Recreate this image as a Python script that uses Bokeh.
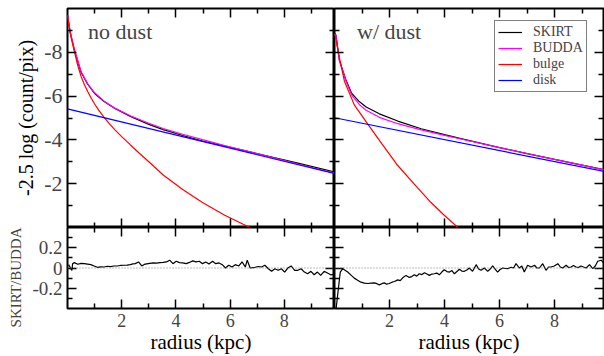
from bokeh.plotting import figure
from bokeh.models import (Range1d, LinearAxis, FixedTicker, Label, Legend, LegendItem, Span,
                          CustomJSTickFormatter, Title)
from bokeh.layouts import gridplot
from bokeh.embed import file_html
from bokeh.resources import INLINE

FONT = "Liberation Serif"

# ---------------- data ----------------
# top-left: no dust
r_left = [0.0, 0.05, 0.1, 0.25, 0.5, 0.75, 1.0, 1.35, 1.75, 2.32, 3.0, 3.53, 4.25, 4.98, 5.8, 6.73, 7.5, 8.5, 10.0]
budda_left = [-9.70, -9.33, -8.94, -8.15, -7.12, -6.56, -6.15, -5.77, -5.45, -5.10, -4.76, -4.52, -4.26, -4.01, -3.74, -3.45, -3.21, -2.90, -2.44]
skirt_left = [-9.68, -9.30, -8.91, -8.12, -7.09, -6.53, -6.12, -5.75, -5.43, -5.07, -4.71, -4.47, -4.20, -3.95, -3.72, -3.45, -3.23, -2.94, -2.49]
bulge_left_r = [0.0, 0.05, 0.1, 0.18, 0.25, 0.375, 0.5, 0.625, 0.75, 0.875, 1.0, 1.15, 1.35, 1.55, 1.75, 2.0,
                2.32, 2.65, 3.0, 3.53, 4.25, 4.98, 5.8, 6.73, 7.5]
bulge_left = [-9.68, -9.25, -8.88, -8.42, -8.06, -7.42, -6.9, -6.52, -6.2, -5.9, -5.64, -5.36, -5.03, -4.73, -4.46, -4.15,
              -3.77, -3.39, -3.0, -2.40, -1.74, -1.14, -0.56, 0.0, 0.65]
disk_left_r = [0.0, 10.0]
disk_left = [-5.42, -2.42]

# top-right: with dust
bulge_right_r = [0.0, 0.05, 0.18, 0.36, 0.72, 1.21, 1.75, 2.30, 2.9, 3.51, 4.0, 4.54, 5.0]
bulge_right = [-8.85, -8.6, -7.75, -6.68, -5.6, -4.72, -3.77, -2.83, -1.98, -1.14, -0.55, 0.06, 0.6]
model_right_r = [0.0, 0.05, 0.18, 0.42, 0.62, 0.90, 1.15, 1.63, 2.30, 3.15, 4.0, 4.6, 6.0, 7.0, 8.0, 9.0, 10.0]
budda_right = [-8.85, -8.75, -7.6, -6.68, -6.06, -5.62, -5.35, -5.03, -4.74, -4.46, -4.21, -4.04, -3.65, -3.38, -3.11, -2.85, -2.58]
skirt_right = [-8.88, -8.8, -7.63, -6.72, -6.14, -5.75, -5.50, -5.19, -4.86, -4.51, -4.24, -4.06, -3.65, -3.37, -3.11, -2.85, -2.59]
disk_right_r = [0.0, 10.0]
disk_right = [-5.01, -2.51]

# residuals SKIRT/BUDDA
res_left_r = [0.04, 0.11, 0.16, 0.19, 0.25, 0.38, 0.5, 0.62, 0.74, 0.86, 0.98, 1.10, 1.22, 1.35, 1.47, 1.59,
              1.71, 1.83, 1.95, 2.07, 2.20, 2.32, 2.41, 2.50, 2.62, 2.74, 2.83, 2.92, 3.04, 3.16, 3.28, 3.41,
              3.53, 3.65, 3.77, 3.89, 4.01, 4.13, 4.25, 4.38, 4.50, 4.62, 4.74, 4.86, 4.98, 5.10, 5.22, 5.35,
              5.47, 5.59, 5.71, 5.83, 5.95, 6.07, 6.19, 6.32, 6.44, 6.56, 6.63, 6.74, 6.92, 7.04, 7.16, 7.28,
              7.41, 7.53, 7.65, 7.77, 7.89, 8.01, 8.13, 8.25, 8.38, 8.50, 8.62, 8.74, 8.86, 8.98, 9.10, 9.22,
              9.34, 9.47, 9.59, 9.71, 9.83]
res_left = [0.033, 0.0, -0.023, 0.043, 0.053, 0.037, 0.045, 0.043, 0.038, 0.033, 0.02, 0.007, 0.012, 0.01, 0.017, 0.013,
            0.02, 0.02, 0.025, 0.027, 0.028, 0.033, 0.04, 0.043, 0.06, 0.02, 0.035, 0.04, 0.045, 0.05, 0.048, 0.053,
            0.055, 0.06, 0.077, 0.043, 0.067, 0.053, 0.05, 0.043, 0.055, 0.07, 0.06, 0.067, 0.043, 0.06, 0.04, 0.067,
            0.043, 0.05, 0.033, 0.0, 0.027, 0.01, 0.033, 0.02, 0.06, 0.01, 0.077, 0.0, 0.007, 0.015, 0.01, 0.027,
            -0.007, -0.033, -0.007, -0.023, -0.007, -0.04, 0.0, 0.02, -0.023, -0.023, -0.007, -0.04, -0.057, -0.033, -0.067, -0.04,
            -0.073, -0.033, -0.05, -0.067, -0.063]
res_right_r = [0.05, 0.21, 0.30, 0.48, 0.60, 0.72, 0.84, 0.96, 1.09, 1.21, 1.33, 1.45, 1.54, 1.63, 1.72, 1.81,
               1.90, 1.99, 2.09, 2.18, 2.30, 2.39, 2.48, 2.60, 2.72, 2.81, 2.90, 2.99, 3.08, 3.18, 3.27, 3.36,
               3.45, 3.54, 3.63, 3.72, 3.81, 3.90, 3.99, 4.09, 4.18, 4.27, 4.36, 4.45, 4.54, 4.63, 4.72, 4.81,
               4.90, 5.02, 5.15, 5.24, 5.33, 5.45, 5.57, 5.66, 5.75, 5.84, 5.93, 6.02, 6.12, 6.21, 6.30, 6.42,
               6.51, 6.60, 6.72, 6.81, 6.90, 7.02, 7.15, 7.27, 7.36, 7.45, 7.57, 7.69, 7.78, 7.87, 7.99, 8.12,
               8.21, 8.30, 8.42, 8.51, 8.60, 8.69, 8.78, 8.87, 8.96, 9.05, 9.15, 9.27, 9.39, 9.48, 9.57, 9.69, 9.81]
res_right = [-0.42, -0.04, -0.007, -0.04, -0.07, -0.10, -0.12, -0.14, -0.15, -0.153, -0.15, -0.147, -0.155, -0.167, -0.155, -0.147,
             -0.16, -0.153, -0.14, -0.133, -0.117, -0.125, -0.097, -0.073, -0.093, -0.085, -0.067, -0.08, -0.057, -0.065, -0.047, -0.06,
             -0.073, -0.06, -0.057, -0.05, -0.067, -0.04, -0.017, -0.035, -0.04, -0.025, -0.057, -0.035, -0.013, -0.03, -0.033, -0.02,
             0.0, -0.033, 0.033, -0.01, -0.023, 0.0, -0.033, -0.01, 0.02, -0.01, -0.04, -0.015, 0.0, -0.005, -0.007, 0.007,
             0.0, 0.043, 0.0, 0.02, -0.04, 0.027, 0.01, 0.027, 0.0, 0.0, 0.043, -0.023, 0.01, 0.01, 0.02, 0.043,
             0.01, 0.0, 0.027, 0.005, 0.01, 0.025, 0.01, 0.005, 0.02, 0.01, 0.0, 0.033, -0.007, 0.02, 0.067, 0.077, 0.043]

x_ticks = [2, 4, 6, 8]
x_minor = [1, 3, 5, 7, 9]
x_labels = ["2", "4", "6", "8"]
mag_ticks = [-8, -6, -4, -2]
mag_minor = [-9, -7, -5, -3, -1]
mag_labels = ["-8", "-6", "-4", "-2"]
res_ticks = [-0.2, 0.0, 0.2]
res_minor = [-0.3, -0.1, 0.1, 0.3]
res_labels = ["-0.2", "0", "0.2"]


def style_axis(ax, ticks, minor, labels=None, size="18px"):
    ax.ticker = FixedTicker(ticks=ticks, minor_ticks=minor)
    ax.axis_line_color = None
    ax.major_tick_in = 9
    ax.major_tick_out = 0
    ax.minor_tick_in = 5
    ax.minor_tick_out = 0
    ax.major_tick_line_color = "black"
    ax.major_tick_line_width = 1.5
    ax.minor_tick_line_color = "black"
    ax.minor_tick_line_width = 1.5
    if labels is None:
        ax.formatter = CustomJSTickFormatter(code="return ''")
        ax.major_label_text_font_size = "0px"
        ax.major_label_standoff = 0
    else:
        ax.major_label_overrides = {t: l for t, l in zip(ticks, labels)}
        ax.major_label_text_font = FONT
        ax.major_label_text_font_size = size
        ax.major_label_standoff = 5
    ax.axis_label_text_font = FONT
    ax.axis_label_text_font_style = "normal"
    ax.axis_label_text_color = "black"
    return ax


def make_fig(w, h, xr, yr, borders):
    p = figure(width=w, height=h, x_range=xr, y_range=yr, output_backend="svg",
               toolbar_location=None, x_axis_location=None, y_axis_location=None,
               min_border_left=borders[0], min_border_right=borders[1],
               min_border_top=borders[2], min_border_bottom=borders[3])
    p.grid.grid_line_color = None
    p.outline_line_color = "black"
    p.outline_line_width = 2
    p.outline_line_alpha = 1
    p.background_fill_color = "white"
    p.border_fill_color = "white"
    return p


def add_axes(p, xt, xm, yt, ym, ylabels=None, ysize="18px", ylabel=None, ylabel_size="18px",
             ylabel_standoff=4, xlabels=None, xlabel=None):
    left = style_axis(LinearAxis(), yt, ym, ylabels, ysize)
    if ylabel:
        left.axis_label = ylabel
        left.axis_label_text_font_size = ylabel_size
        left.axis_label_standoff = ylabel_standoff
    p.add_layout(left, "left")
    p.add_layout(style_axis(LinearAxis(), yt, ym), "right")
    p.add_layout(style_axis(LinearAxis(), xt, xm), "above")
    bottom = style_axis(LinearAxis(), xt, xm, xlabels, "18px")
    if xlabel:
        bottom.axis_label = xlabel
        bottom.axis_label_text_font_size = "21px"
        bottom.axis_label_standoff = 0
    p.add_layout(bottom, "below")


xl = Range1d(0, 9.85)
xr_ = Range1d(0, 9.78)

# ---- top-left ----
tl = make_fig(334, 227, xl, Range1d(0, -10), (63, 0, 8, 0))
add_axes(tl, x_ticks, x_minor, mag_ticks, mag_minor, mag_labels, "22px",
         "-2.5 log (count/pix)", "20px", 4)
tl.line(r_left, skirt_left, color="black", line_width=1.2)
tl.line(r_left, budda_left, color="#ff00ff", line_width=1.2)
tl.line(bulge_left_r, bulge_left, color="#ff0000", line_width=1.2)
tl.line(disk_left_r, disk_left, color="#0000ff", line_width=1.2)
tl.add_layout(Label(x=0.76, y=-8.95, text="no dust", text_font=FONT, text_font_size="22px",
                    text_baseline="alphabetic"))

# ---- top-right ----
tr = make_fig(270, 227, xr_, Range1d(0, -10), (0, 1, 8, 0))
add_axes(tr, x_ticks, x_minor, mag_ticks, mag_minor)
g1 = tr.line(model_right_r, skirt_right, color="black", line_width=1.2)
g2 = tr.line(model_right_r, budda_right, color="#ff00ff", line_width=1.2)
g3 = tr.line(bulge_right_r, bulge_right, color="#ff0000", line_width=1.2)
g4 = tr.line(disk_right_r, disk_right, color="#0000ff", line_width=1.2)
tr.add_layout(Label(x=0.82, y=-8.95, text="w/ dust", text_font=FONT, text_font_size="22px",
                    text_baseline="alphabetic"))
legend = Legend(items=[LegendItem(label="SKIRT", renderers=[g1]),
                       LegendItem(label="BUDDA", renderers=[g2]),
                       LegendItem(label="bulge", renderers=[g3]),
                       LegendItem(label="disk", renderers=[g4])],
                location=(160, 135), margin=0, padding=3, spacing=0,
                glyph_width=24, glyph_height=14, label_height=14, label_standoff=11,
                label_text_font=FONT, label_text_font_size="14px",
                border_line_color="black", border_line_width=1.5,
                background_fill_color="white", background_fill_alpha=1)
tr.add_layout(legend, "center")

# ---- bottom-left ----
bl = make_fig(334, 129, xl, Range1d(-0.4, 0.4), (63, 0, 0, 48))
add_axes(bl, x_ticks, x_minor, res_ticks, res_minor, res_labels, "19px",
         None, "15px", 8, x_labels, "radius (kpc)")
bl.add_layout(Span(location=0, dimension="width", line_color="#777777", line_dash="1 2", line_width=1))
bl.line(res_left_r, res_left, color="black", line_width=1.2)
bl.add_layout(Title(text="SKIRT/BUDDA", align="right", standoff=11,
                    text_font=FONT, text_font_size="15px", text_font_style="normal"), "left")

# ---- bottom-right ----
br = make_fig(270, 129, xr_, Range1d(-0.4, 0.4), (0, 1, 0, 48))
add_axes(br, x_ticks, x_minor, res_ticks, res_minor, None, "19px",
         None, "15px", 8, x_labels, "radius (kpc)")
br.add_layout(Span(location=0, dimension="width", line_color="#777777", line_dash="1 2", line_width=1))
br.line(res_right_r, res_right, color="black", line_width=1.2)

grid = gridplot([[tl, tr], [bl, br]], toolbar_location=None)

open("out.html", "w").write(file_html(grid, INLINE))
